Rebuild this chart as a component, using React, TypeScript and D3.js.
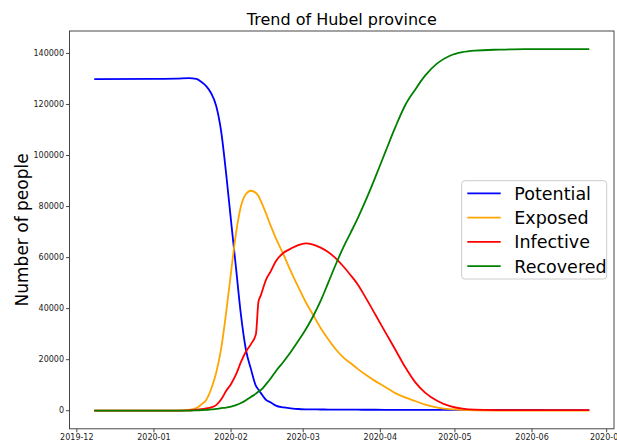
import React from "react";
import * as d3 from "d3";

const dates = ["2019-12-08","2020-01-01","2020-01-10","2020-01-15","2020-01-18","2020-01-20","2020-01-22","2020-01-24","2020-01-26","2020-01-28","2020-01-30","2020-02-01","2020-02-03","2020-02-05","2020-02-07","2020-02-09","2020-02-11","2020-02-12","2020-02-13","2020-02-15","2020-02-17","2020-02-19","2020-02-22","2020-02-25","2020-02-28","2020-03-02","2020-03-05","2020-03-08","2020-03-11","2020-03-14","2020-03-17","2020-03-20","2020-03-23","2020-03-26","2020-03-30","2020-04-03","2020-04-07","2020-04-11","2020-04-15","2020-04-19","2020-04-24","2020-04-29","2020-05-04","2020-05-09","2020-05-19","2020-05-29","2020-06-08","2020-06-24"];

const potential = [129900,130000,130100,130300,130000,128900,127200,124400,119500,109600,93100,74300,55900,37400,23800,16300,9700,8300,6900,4300,3200,2000,1300,940,670,550,500,480,460,440,420,400,390,380,370,360,350,340,330,320,310,300,300,290,280,280,270,270];

const exposed = [0,0,50,300,1000,2400,4200,8500,14800,24200,38300,54300,69600,80200,84900,86200,85300,84100,82100,77400,72300,67600,61400,54700,48500,42600,37500,32400,28100,24200,21000,18700,16300,14200,11600,9300,6900,5200,3800,2400,1250,600,300,150,60,30,10,5];

const infective = [0,0,0,100,400,600,900,1300,2200,4400,7700,10500,14200,19100,23200,26100,30000,42600,45300,51200,54700,58600,61800,63500,64900,65600,65100,63900,62200,59800,56700,53200,49400,44500,37700,30800,24000,17100,11200,7100,3800,1800,800,400,250,200,200,200];

const recovered = [0,0,20,50,100,200,300,500,700,1000,1200,1600,2200,3000,4100,5400,6700,7500,8100,10300,12700,15500,19100,23000,27300,31800,37000,43000,50000,57100,63700,69600,75600,82100,91500,101300,111000,119700,125800,131300,136200,139100,140500,141100,141500,141700,141700,141700];

const seriesNames = ["Potential", "Exposed", "Infective", "Recovered"];
const seriesColors = ["#0000ff", "#ffa500", "#ff0000", "#008000"];
const yTicks = [0, 20000, 40000, 60000, 80000, 100000, 120000, 140000];
const xTickLabels = ["2019-12","2020-01","2020-02","2020-03","2020-04","2020-05","2020-06","2020-07"];
const title = "Trend of Hubel province";
const yLabel = "Number of people";

const FONT = "DejaVu Sans, Liberation Sans, sans-serif";

export default function App() {
  const W = 617, H = 441;
  const left = 69.5, right = 614, top = 31, bottom = 428.8;
  const parse = d3.timeParse("%Y-%m-%d");
  const xs = dates.map((d) => parse(d) as Date);
  const t0 = xs[0].getTime(), t1 = xs[xs.length - 1].getTime();
  const padX = (t1 - t0) * 0.05;
  const x = d3.scaleTime().domain([new Date(t0 - padX), new Date(t1 + padX)]).range([left, right]);
  const all = [potential, exposed, infective, recovered];
  const ymin = d3.min(all.flat()) as number;
  const ymax = d3.max(all.flat()) as number;
  const padY = (ymax - ymin) * 0.05;
  const y = d3.scaleLinear().domain([ymin - padY, ymax + padY]).range([bottom, top]);

  const line = d3
    .line<number>()
    .x((_, i) => x(xs[i]))
    .y((v) => y(v))
    .curve(d3.curveMonotoneX);

  const xTickDates = xTickLabels.map((s) => parse(s + "-01") as Date);

  const legX = 461.7, legY = 180.7, legW = 145, legH = 98.3;
  const rowH = 24.3;

  return (
    <svg width={W} height={H} style={{ position: "absolute", left: 0, top: 0, background: "#fff" }} fontFamily={FONT}>
      <rect x={0} y={0} width={W} height={H} fill="#fff" />
      <text x={(left + right) / 2} y={25} textAnchor="middle" fontSize={16} fill="#000">{title}</text>
      <text transform={`translate(28,${(top + bottom) / 2}) rotate(-90)`} textAnchor="middle" fontSize={17} fill="#000">{yLabel}</text>
      <defs>
        <clipPath id="clip">
          <rect x={left} y={top} width={right - left} height={bottom - top} />
        </clipPath>
      </defs>
      <g clipPath="url(#clip)">
        {all.map((vals, k) => (
          <path key={k} d={line(vals) || ""} fill="none" stroke={seriesColors[k]} strokeWidth={1.8} strokeLinejoin="round" />
        ))}
      </g>
      <rect x={left} y={top} width={right - left} height={bottom - top} fill="none" stroke="#333" strokeWidth={0.9} />
      {yTicks.map((t) => (
        <g key={t}>
          <line x1={left - 3.5} x2={left} y1={y(t)} y2={y(t)} stroke="#333" strokeWidth={0.9} />
          <text x={left - 5.5} y={y(t)} dy="0.32em" textAnchor="end" fontSize={8} fill="#222">{t}</text>
        </g>
      ))}
      {xTickDates.map((d, i) => (
        <g key={i}>
          <line x1={x(d)} x2={x(d)} y1={bottom} y2={bottom + 3.5} stroke="#333" strokeWidth={0.9} />
          <text x={x(d)} y={440} textAnchor="middle" fontSize={8} fill="#222">{xTickLabels[i]}</text>
        </g>
      ))}
      <rect x={legX} y={legY} width={legW} height={legH} rx={3} fill="#fff" fillOpacity={0.8} stroke="#cccccc" strokeWidth={1} />
      {seriesNames.map((n, k) => {
        const cy = legY + 12.6 + k * rowH;
        return (
          <g key={n}>
            <line x1={legX + 5.6} x2={legX + 39} y1={cy} y2={cy} stroke={seriesColors[k]} strokeWidth={1.8} />
            <text x={legX + 52.6} y={cy} dy="0.36em" fontSize={17.5} fill="#000">{n}</text>
          </g>
        );
      })}
    </svg>
  );
}
